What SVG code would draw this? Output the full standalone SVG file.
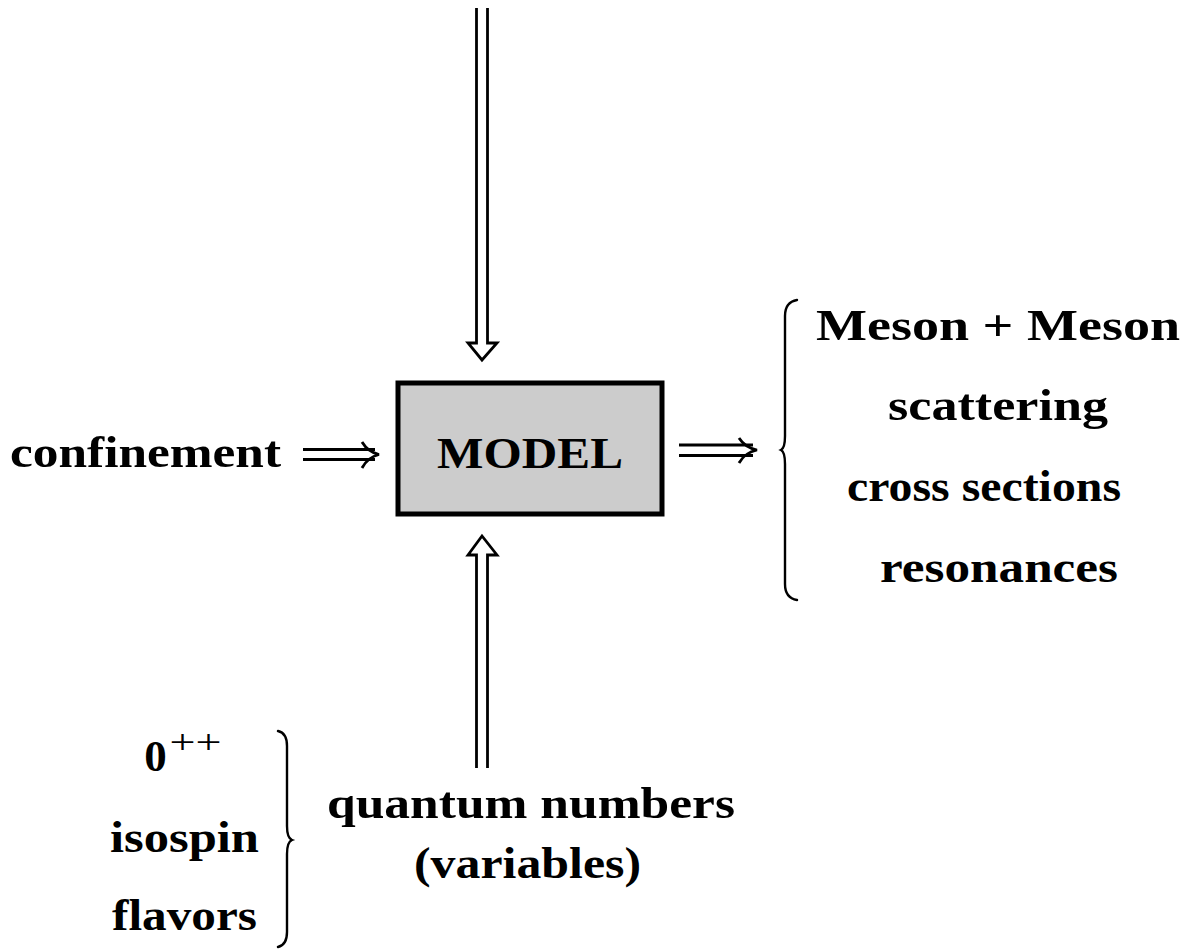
<svg xmlns="http://www.w3.org/2000/svg" width="1197" height="949" viewBox="0 0 1197 949">
<style>
  .t { font-family: "Liberation Serif", "Times New Roman", serif; font-weight: bold; font-size: 45px; fill: #000; text-anchor: middle; }
  .sup { font-weight: normal; font-size: 34px; }
  .ln { fill: none; stroke: #000; stroke-width: 2.8; stroke-linejoin: miter; }
  .br { fill: none; stroke: #000; stroke-width: 2.4; stroke-linecap: round; }
</style>
<rect width="1197" height="949" fill="#fff"/>
<g id="model">
  <rect x="398" y="383" width="264" height="131" fill="#cccccc" stroke="#000" stroke-width="5"/>
  <text class="t" x="530" y="468" textLength="186" lengthAdjust="spacingAndGlyphs">MODEL</text>
</g>
<g id="confinement">
  <text class="t" x="145.5" y="467" textLength="271" lengthAdjust="spacingAndGlyphs">confinement</text>
</g>
<g id="outputs">
  <text class="t" x="998" y="340" textLength="364" lengthAdjust="spacingAndGlyphs">Meson + Meson</text>
  <text class="t" x="998" y="420" textLength="220" lengthAdjust="spacingAndGlyphs">scattering</text>
  <text class="t" x="984" y="501" textLength="274" lengthAdjust="spacingAndGlyphs">cross sections</text>
  <text class="t" x="999" y="582" textLength="238" lengthAdjust="spacingAndGlyphs">resonances</text>
  <path class="br" d="M797 300 Q785 302 785 316 L785 436 Q785 448 781 450 Q785 452 785 464 L785 584 Q785 598 797 600"/>
</g>
<g id="quantum">
  <text class="t" x="531" y="818" textLength="408" lengthAdjust="spacingAndGlyphs">quantum numbers</text>
  <text class="t" x="527.5" y="878" textLength="227" lengthAdjust="spacingAndGlyphs">(variables)</text>
</g>
<g id="inputs">
  <text class="t" x="155.5" y="771">0</text>
  <text class="t sup" x="195.5" y="753" textLength="52" lengthAdjust="spacingAndGlyphs">++</text>
  <text class="t" x="184.5" y="852" textLength="149" lengthAdjust="spacingAndGlyphs">isospin</text>
  <text class="t" x="184.5" y="930" textLength="145" lengthAdjust="spacingAndGlyphs">flavors</text>
  <path class="br" d="M278 731 Q287 733 287 746 L287 826 Q287 838 292 840 Q287 842 287 854 L287 932 Q287 945 278 947"/>
</g>
<g id="connectors">
  <path class="ln" d="M476.5 8 L476.5 343 L468 343 L482 360 L497 343 L487.5 343 L487.5 8"/>
  <path class="ln" d="M476.5 768 L476.5 555 L468 555 L482 536 L497 555 L487.5 555 L487.5 768"/>
  <path class="ln" d="M303 449.5 L375 449.5 M303 459.5 L375 459.5"/>
  <path class="ln" d="M362 442 Q368 452 379 454.5 Q368 457 362 468"/>
  <path class="ln" d="M679 445 L753 445 M679 455.5 L753 455.5"/>
  <path class="ln" d="M739 438 Q745 447.5 757 450 Q745 452.5 739 463"/>
</g>
</svg>
